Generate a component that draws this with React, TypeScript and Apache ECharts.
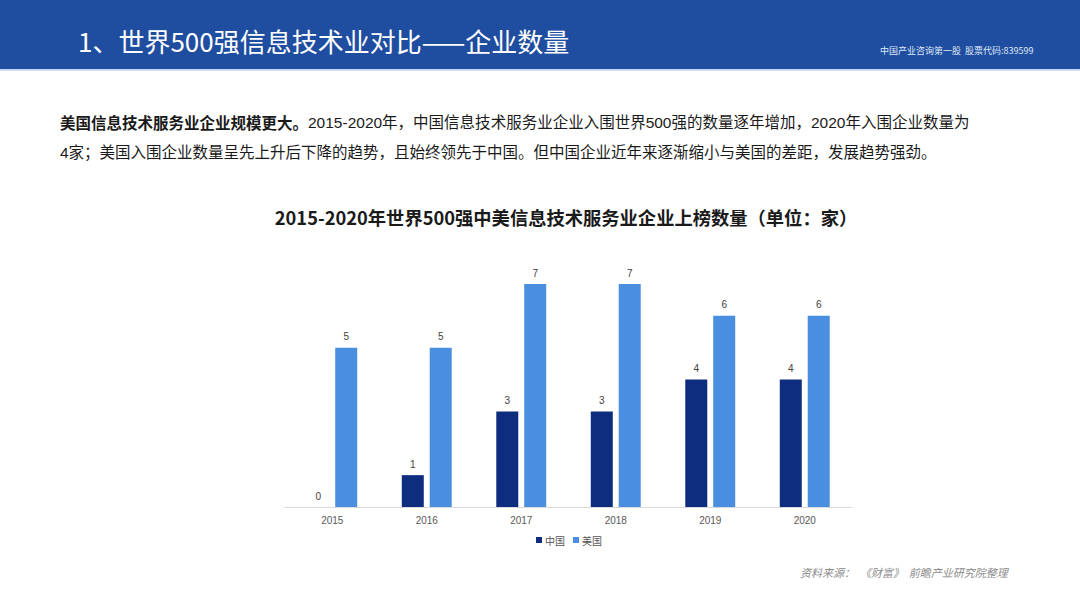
import React, { useEffect, useRef } from "react";
import * as echarts from "echarts";

const years = ["2015", "2016", "2017", "2018", "2019", "2020"];
const chinaValues = [0, 1, 3, 3, 4, 4];
const usValues = [5, 5, 7, 7, 6, 6];
const seriesNames = ["中国", "美国"];

const headerTitle = "1、世界500强信息技术业对比——企业数量";
const headerRight = "中国产业咨询第一股  股票代码:839599";
const chartTitle = "2015-2020年世界500强中美信息技术服务业企业上榜数量（单位：家）";
const paraBold = "美国信息技术服务业企业规模更大。";
const paraLine1 = "2015-2020年，中国信息技术服务业企业入围世界500强的数量逐年增加，2020年入围企业数量为";
const paraLine2 = "4家；美国入围企业数量呈先上升后下降的趋势，且始终领先于中国。但中国企业近年来逐渐缩小与美国的差距，发展趋势强劲。";
const sourceText = "资料来源：  《财富》  前瞻产业研究院整理";

export default function App() {
  const ref = useRef<HTMLDivElement>(null);
  useEffect(() => {
    if (!ref.current) return;
    const chart = echarts.init(ref.current, undefined, { renderer: "svg" });
    const font = "'Liberation Sans', 'Noto Sans CJK SC', sans-serif";
    const cjk = "'Noto Sans CJK SC', sans-serif";
    chart.setOption({
      animation: false,
      backgroundColor: "#ffffff",
      textStyle: { fontFamily: font },
      title: {
        text: chartTitle,
        left: 561,
        textAlign: "center",
        top: 203,
        textStyle: { fontSize: 18.3, fontWeight: "bold", color: "#1a1a1a", fontFamily: cjk },
      },
      legend: {
        data: seriesNames,
        left: 531,
        top: 530,
        itemWidth: 6,
        itemHeight: 6,
        itemGap: 8,
        icon: "rect",
        textStyle: { fontSize: 10, color: "#555", fontFamily: cjk, padding: [0, 0, 0, -2] },
      },
      grid: { left: 285, right: 1080 - 852, top: 284, bottom: 607 - 507, containLabel: false },
      xAxis: {
        type: "category",
        data: years,
        axisLine: { lineStyle: { color: "#d9d9d9" } },
        axisTick: { show: false },
        axisLabel: { fontSize: 10, color: "#595959", margin: 8, fontFamily: font },
      },
      yAxis: {
        type: "value",
        min: 0,
        max: 7,
        show: false,
        splitLine: { show: false },
      },
      series: [
        {
          name: seriesNames[0],
          type: "bar",
          data: chinaValues,
          barWidth: 22,
          barGap: "27%",
          itemStyle: { color: "#0f2d7e" },
          label: { show: true, position: "top", fontSize: 10, color: "#404040", distance: 6, fontFamily: font },
        },
        {
          name: seriesNames[1],
          type: "bar",
          data: usValues,
          barWidth: 22,
          itemStyle: { color: "#4a8ee0" },
          label: { show: true, position: "top", fontSize: 10, color: "#404040", distance: 6, fontFamily: font },
        },
      ],
      graphic: [
        { type: "rect", shape: { x: 0, y: 0, width: 1080, height: 69 }, style: { fill: "#1f4ea1" } },
        { type: "rect", shape: { x: 0, y: 69, width: 1080, height: 2 }, style: { fill: "#c9d9f0" } },
        {
          type: "text",
          x: 78,
          y: 40,
          style: { text: headerTitle, fill: "#ffffff", fontSize: 26, fontFamily: cjk, verticalAlign: "middle" },
        },
        {
          type: "text",
          x: 880,
          y: 50,
          style: { text: headerRight, fill: "#dfe8f7", fontSize: 9, fontFamily: cjk, verticalAlign: "middle" },
        },
        {
          type: "text",
          x: 60,
          y: 122,
          style: {
            text: "{b|" + paraBold + "}{n|" + paraLine1 + "}",
            verticalAlign: "middle",
            rich: {
              b: { fontSize: 15.5, fontWeight: "bold", fill: "#1a1a1a", fontFamily: cjk },
              n: { fontSize: 15.5, fill: "#1a1a1a", fontFamily: font },
            },
          },
        },
        {
          type: "text",
          x: 60,
          y: 152,
          style: { text: paraLine2, fontSize: 15.5, fill: "#1a1a1a", fontFamily: font, verticalAlign: "middle" },
        },
        {
          type: "text",
          x: 800,
          y: 572,
          style: { text: sourceText, fontSize: 11, fill: "#8c8c8c", fontStyle: "italic", fontFamily: cjk, verticalAlign: "middle" },
        },
      ],
    });
    return () => chart.dispose();
  }, []);
  return (
    <div
      ref={ref}
      style={{ position: "fixed", left: 0, top: 0, width: 1080, height: 607 }}
    />
  );
}
